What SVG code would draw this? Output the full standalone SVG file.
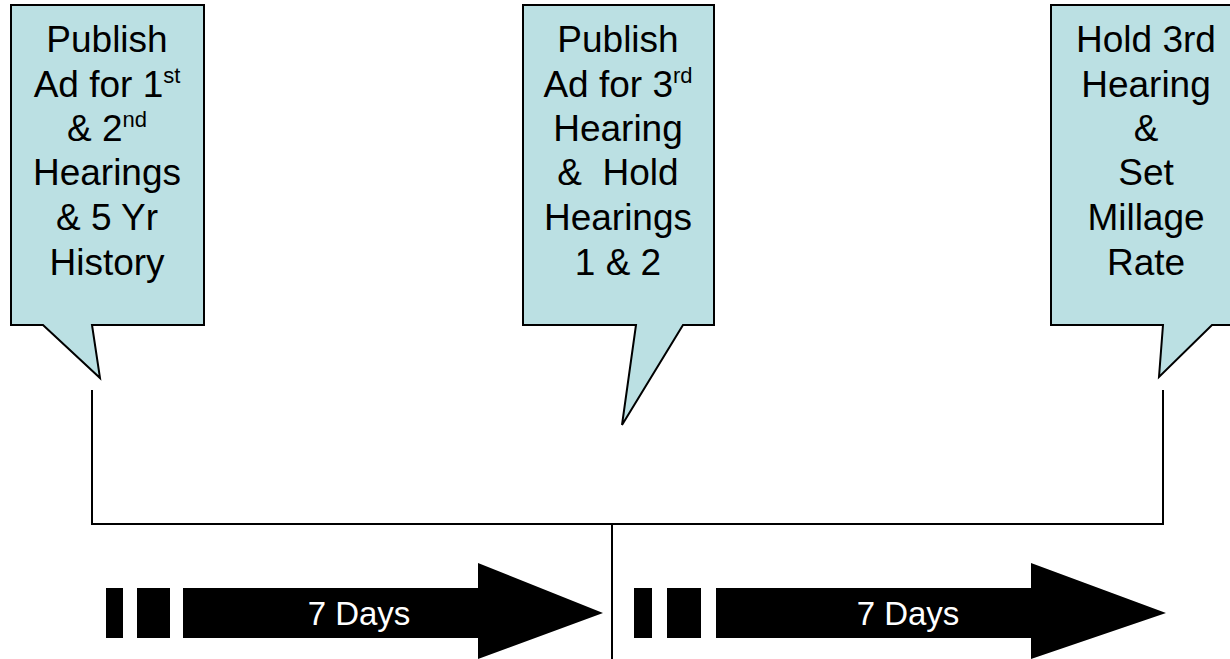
<svg xmlns="http://www.w3.org/2000/svg" width="1230" height="659" viewBox="0 0 1230 659">
<style>
.callout{fill:#BBE0E3;stroke:#000;stroke-width:2;stroke-linejoin:miter}
.t{font-family:"Liberation Sans",Arial,sans-serif;font-size:37px;fill:#000;text-anchor:middle}
.sup{font-size:22px}
.conn{stroke:#000;stroke-width:2;fill:none}
.arrow{fill:#000}
.at{font-family:"Liberation Sans",Arial,sans-serif;font-size:33px;fill:#fff;text-anchor:middle}
</style>
<rect width="1230" height="659" fill="#fff"/>
<g id="connectors">
<polyline class="conn" points="92,390 92,524 1163,524 1163,390"/>
<line class="conn" x1="612" y1="524" x2="612" y2="659"/>
</g>
<g id="callout1">
<path class="callout" d="M11,5 H204 V325 H92 L100,378 L43,325 H11 Z"/>
<text class="t" x="107" y="52">Publish</text>
<text class="t" x="107" y="97">Ad for 1<tspan class="sup" dy="-14">st</tspan></text>
<text class="t" x="107" y="141">&amp; 2<tspan class="sup" dy="-14">nd</tspan></text>
<text class="t" x="107" y="185">Hearings</text>
<text class="t" x="107" y="230">&amp; 5 Yr</text>
<text class="t" x="107" y="275">History</text>
</g>
<g id="callout2">
<path class="callout" d="M523,5 H714 V325 H683 L622,425 L636,325 H523 Z"/>
<text class="t" x="618" y="52">Publish</text>
<text class="t" x="618" y="97">Ad for 3<tspan class="sup" dy="-14">rd</tspan></text>
<text class="t" x="618" y="141">Hearing</text>
<text class="t" x="618" y="185" xml:space="preserve">&amp;  Hold</text>
<text class="t" x="618" y="230">Hearings</text>
<text class="t" x="618" y="275">1 &amp; 2</text>
</g>
<g id="callout3">
<path class="callout" d="M1051,5 H1241 V325 H1212 L1159,377 L1163,325 H1051 Z"/>
<text class="t" x="1146" y="52">Hold 3rd</text>
<text class="t" x="1146" y="97">Hearing</text>
<text class="t" x="1146" y="141">&amp;</text>
<text class="t" x="1146" y="185">Set</text>
<text class="t" x="1146" y="230">Millage</text>
<text class="t" x="1146" y="275">Rate</text>
</g>
<g id="arrow1">
<rect class="arrow" x="106" y="588" width="17" height="50"/>
<rect class="arrow" x="137" y="588" width="33" height="50"/>
<path class="arrow" d="M183,588 H478 V563 L603,613 L478,659 V638 H183 Z"/>
<text class="at" x="359" y="625">7 Days</text>
</g>
<g id="arrow2">
<rect class="arrow" x="634" y="588" width="18" height="50"/>
<rect class="arrow" x="667" y="588" width="34" height="50"/>
<path class="arrow" d="M716,588 H1031 V563 L1166,613 L1031,659 V638 H716 Z"/>
<text class="at" x="908" y="625">7 Days</text>
</g>
</svg>
